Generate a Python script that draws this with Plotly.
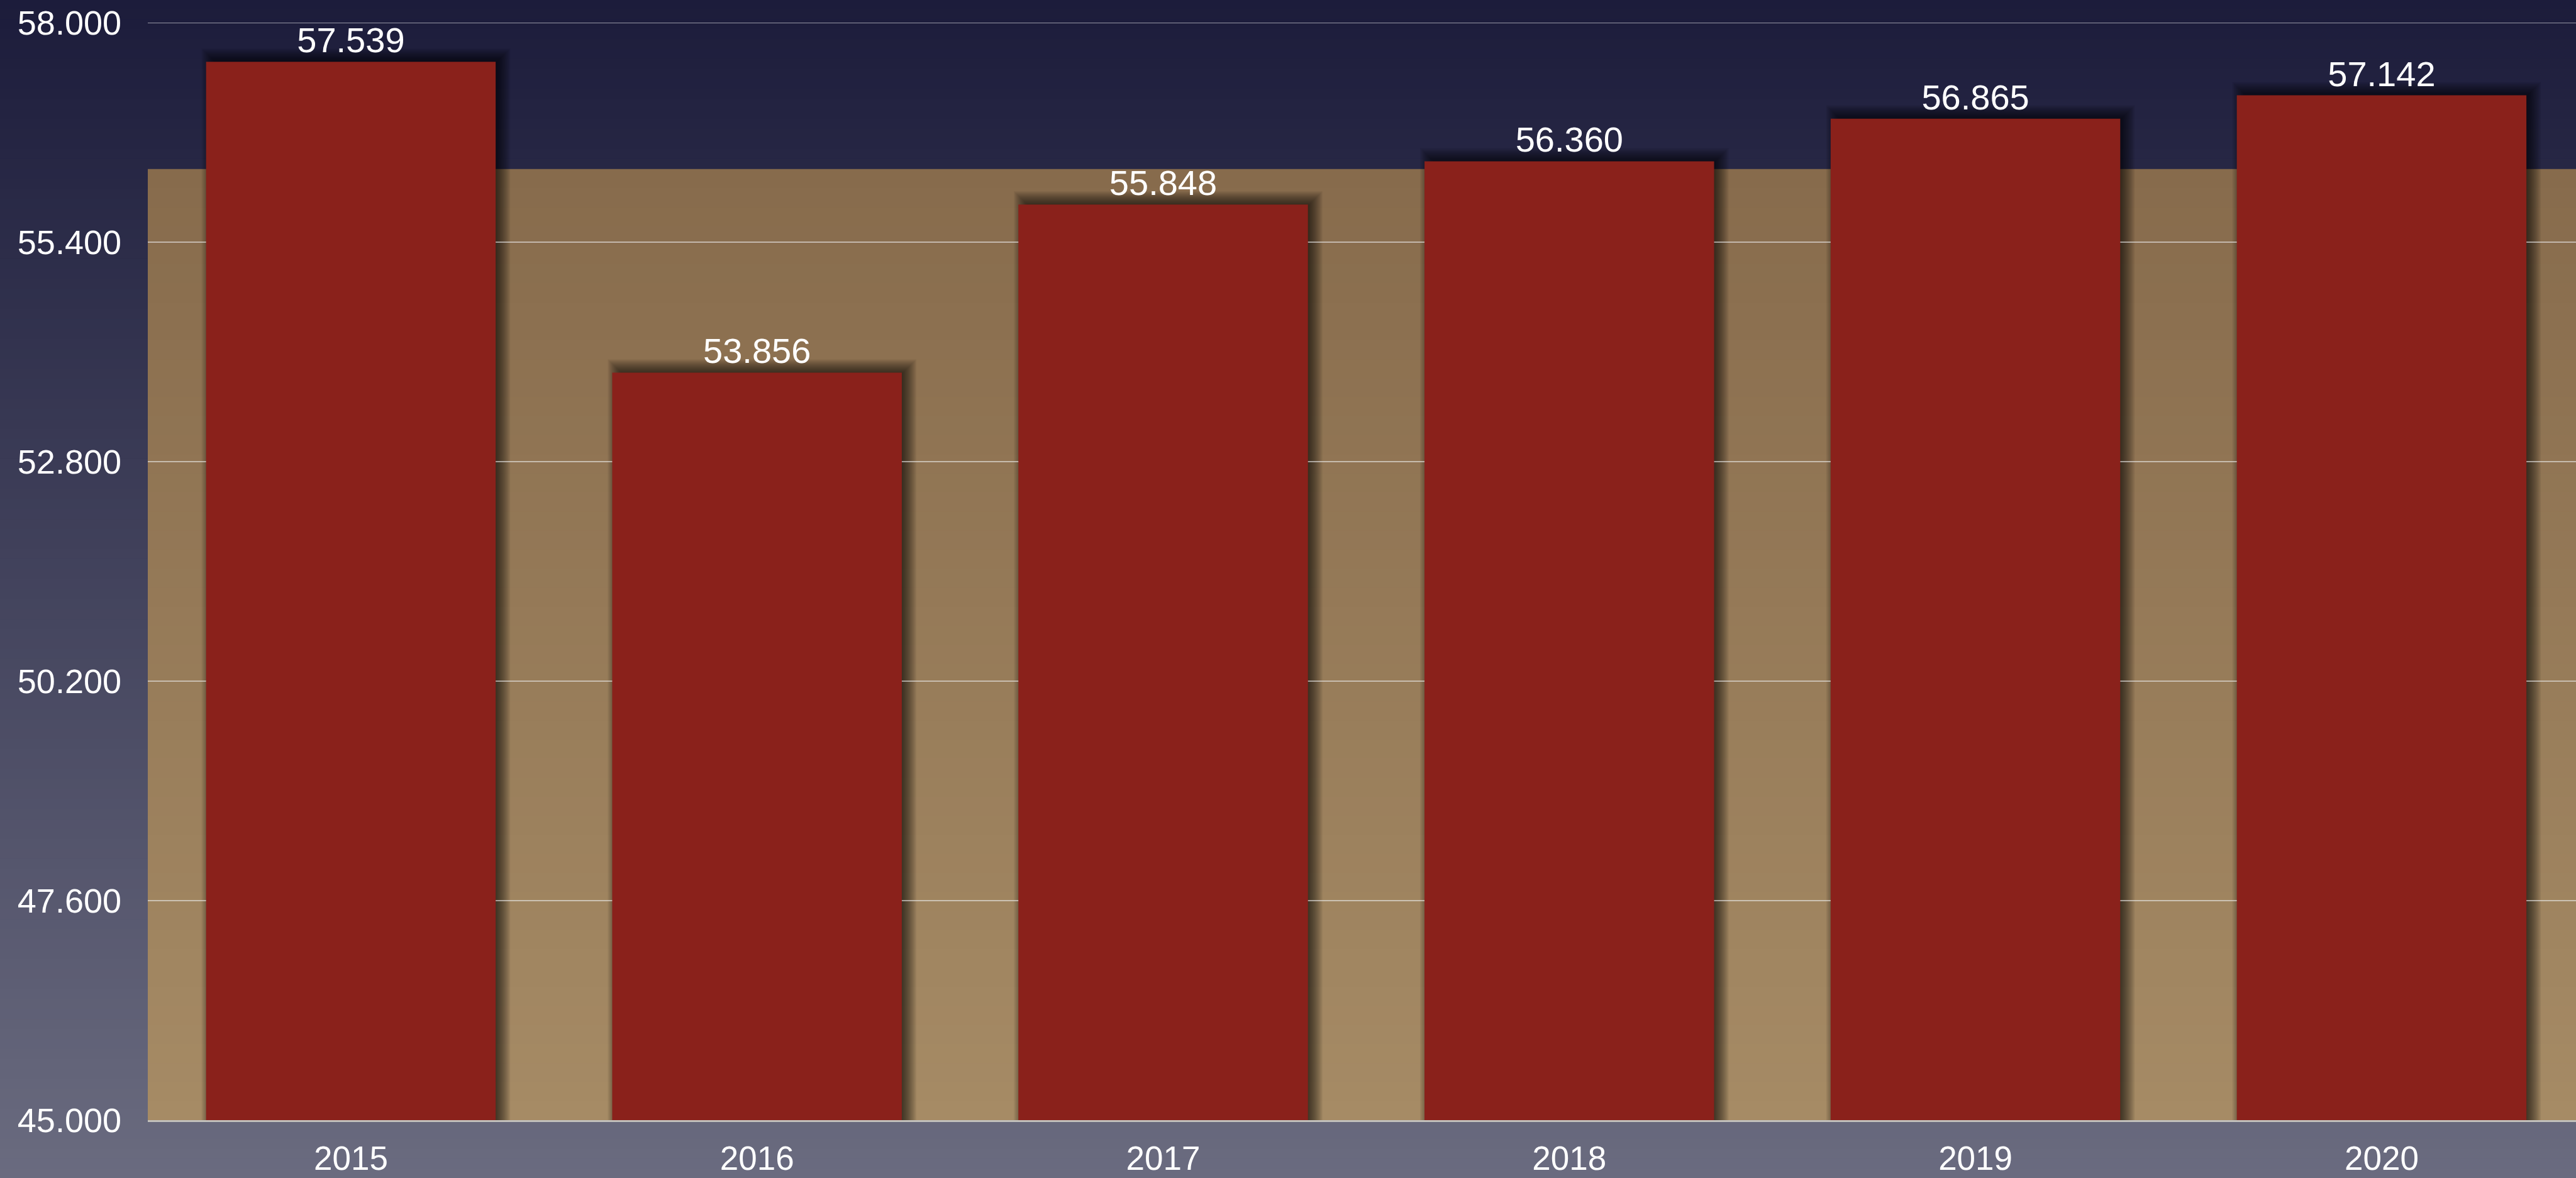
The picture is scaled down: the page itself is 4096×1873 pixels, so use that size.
import plotly.graph_objects as go

# ---- data ----
years = ["2015", "2016", "2017", "2018", "2019", "2020"]
values = [57.539, 53.856, 55.848, 56.360, 56.865, 57.142]
y_ticks = [45.0, 47.6, 50.2, 52.8, 55.4, 58.0]
y_min, y_max = 45.0, 58.025

W, H = 4096, 1873
ML, MR, MT, MB = 235, 0, 33, 92
plot_w = W - ML - MR
plot_h = H - MT - MB
cat_px = 645.8
x_end = -0.5 + plot_w / cat_px
bar_w = 0.713

mean_val = sum(values) / len(values)

def lerp(c1, c2, t):
    return "rgb(%d,%d,%d)" % tuple(round(a + (b - a) * t) for a, b in zip(c1, c2))

shapes = []

# figure background gradient (paper coordinates)
bg_top, bg_bot = (27, 27, 58), (107, 108, 128)
y_lo = -MB / plot_h - 0.01
y_hi = 1 + MT / plot_h + 0.01
x_lo = -ML / plot_w - 0.01
n_bg = 120
for i in range(n_bg):
    t0 = i / n_bg
    t1 = (i + 1) / n_bg
    ya = y_hi - (y_hi - y_lo) * t0
    yb = y_hi - (y_hi - y_lo) * t1 - 0.002
    shapes.append(dict(type="rect", xref="paper", yref="paper", x0=x_lo, x1=1.01,
                       y0=yb, y1=ya, fillcolor=lerp(bg_top, bg_bot, (t0 + t1) / 2),
                       line=dict(width=0), layer="below"))

# mean band gradient
band_top, band_bot = (135, 107, 76), (166, 139, 101)
n_band = 50
for i in range(n_band):
    t0 = i / n_band
    t1 = (i + 1) / n_band
    ya = mean_val - (mean_val - y_min) * t0
    yb = mean_val - (mean_val - y_min) * t1 - 0.01
    shapes.append(dict(type="rect", xref="x", yref="y", x0=-0.5, x1=x_end,
                       y0=max(yb, y_min), y1=ya, fillcolor=lerp(band_top, band_bot, (t0 + t1) / 2),
                       line=dict(width=0), layer="below"))

# soft bar shadows (offset right & up, blurred)
px_x = 1.0 / cat_px
px_y = (y_max - y_min) / plot_h
sh_dx, sh_dy, sh_r = 8, 6, 16
n_sh = 16
for i, v in enumerate(values):
    for k in range(n_sh):
        e = -sh_r + 2 * sh_r * (k + 0.5) / n_sh
        shapes.append(dict(type="rect", xref="x", yref="y",
                           x0=i - bar_w / 2 + (sh_dx - e) * px_x,
                           x1=i + bar_w / 2 + (sh_dx + e) * px_x,
                           y0=y_min - 0.2, y1=v + (sh_dy + e) * px_y,
                           fillcolor="rgba(0,0,0,0.07)", line=dict(width=0), layer="below"))

fig = go.Figure()
fig.add_trace(go.Bar(
    x=years, y=values, width=bar_w,
    marker=dict(color="#8a211b", line=dict(width=0)),
    texttemplate="%{y:.3f}", textposition="outside", cliponaxis=False,
    textfont=dict(family="Liberation Sans, Arial, sans-serif", size=56, color="white"),
    hoverinfo="skip",
))

fig.update_layout(
    width=W, height=H,
    margin=dict(l=ML, r=MR, t=MT, b=MB, pad=0, autoexpand=False),
    paper_bgcolor="#3a3b58",
    plot_bgcolor="rgba(0,0,0,0)",
    showlegend=False,
    shapes=shapes,
    font=dict(family="Liberation Sans, Arial, sans-serif", color="white"),
    xaxis=dict(type="category", range=[-0.5, x_end], showgrid=False, zeroline=False,
               showline=True, linecolor="#c2c0bb", linewidth=2.5, ticks="",
               automargin=False,
               tickfont=dict(size=53, color="white"), ticklabelstandoff=13),
    yaxis=dict(range=[y_min, y_max], tickvals=y_ticks, tickformat=".3f",
               showgrid=True, gridcolor="rgba(235,235,235,0.6)", gridwidth=1.7,
               zeroline=False, showline=False, ticks="", automargin=False,
               tickfont=dict(size=54, color="white"), ticklabelstandoff=41),
)

fig.write_html(
    "out.html",
    config={"displayModeBar": False, "staticPlot": True},
    post_script="document.body.style.margin='0';document.body.style.padding='0';"
                "document.documentElement.style.margin='0';document.body.style.overflow='hidden';",
)
